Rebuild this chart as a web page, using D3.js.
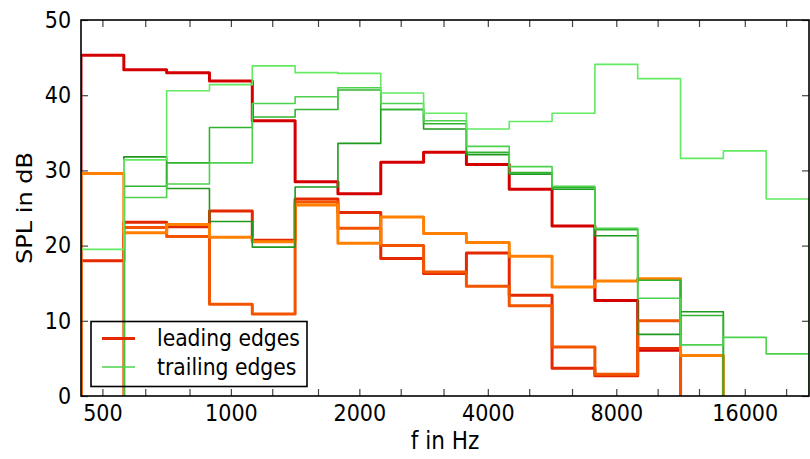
<!DOCTYPE html>
<html>
<head>
<meta charset="utf-8">
<script src="https://cdn.jsdelivr.net/npm/d3@7"></script>
<style>
  body { margin: 0; background: #fff; }
  svg { display: block; }
  text { font-family: "DejaVu Sans", sans-serif; fill: #000; }
</style>
</head>
<body>
<svg id="chart" width="810" height="459"></svg>
<script>
// third-octave band centre frequencies in Hz
const bands = [500, 630, 800, 1000, 1250, 1600, 2000, 2500, 3150, 4000, 5000, 6300, 8000, 10000, 12500, 16000, 20000];
const xTickLabels = [500, 1000, 2000, 4000, 8000, 16000];
const yTicks = [0, 10, 20, 30, 40, 50];

// leading edges, SPL in dB, one value per band from the start band on
const leadA_start = 500;
const leadA = [45.3, 43.4, 43.0, 41.9, 36.6, 28.5, 26.9, 31.1, 32.4, 30.8, 27.5, 22.6, 12.7, 6.1];
const leadB_start = 500;
const leadB = [18.0, 23.1, 22.5, 24.6, 20.7, 26.2, 24.4, 18.3, 16.3, 19.0, 13.4, 3.7, 2.7, 6.3];
const leadD_start = 630;
const leadD = [22.4, 21.2, 12.2, 10.9, 25.8, 22.3, 20.0, 16.5, 14.6, 12.0, 6.5, 2.9, 10.0];
const leadC_start = 500;
const leadC = [29.6, 21.7, 22.8, 21.1, 20.5, 25.4, 20.3, 23.8, 21.6, 20.4, 18.6, 14.5, 15.3, 15.6, 5.4];

// trailing edges
const trailDk_start = 630;
const trailDk = [31.8, 27.6, 23.2, 19.8, 27.8, 33.6, 38.1, 35.5, 32.1, 29.5, 27.5, 21.3, 8.2, 11.2];
const trailM_start = 630;
const trailM = [27.9, 31.0, 35.7, 37.1, 38.1, 40.7, 38.1, 36.2, 32.4, 29.7, 27.7, 22.1, 15.4, 10.7];
const trailL_start = 630;
const trailL = [26.4, 28.2, 31.0, 38.9, 39.8, 41.0, 38.9, 36.6, 33.2, 30.5, 27.9, 22.3, 13.0, 6.8, 7.8, 5.6];
const trailT_start = 500;
const trailT = [19.5, 31.4, 40.6, 41.4, 43.9, 43.0, 42.9, 40.3, 37.6, 35.5, 36.5, 37.6, 44.1, 42.2, 31.6, 32.6, 26.2];

const series = [
    {start: leadA_start, values: leadA, color: "#d40000", width: 3},
    {start: leadB_start, values: leadB, color: "#e42800", width: 3},
    {start: leadD_start, values: leadD, color: "#f25400", width: 3},
    {start: leadC_start, values: leadC, color: "#ff8000", width: 3},
    {start: trailDk_start, values: trailDk, color: "#1e9a1e", width: 1.6},
    {start: trailM_start, values: trailM, color: "#30b430", width: 1.6},
    {start: trailL_start, values: trailL, color: "#4cd24c", width: 1.6},
    {start: trailT_start, values: trailT, color: "#62ea62", width: 1.6}
];

const svg = d3.select("#chart");
const margin = {left: 81, right: 1, top: 20, bottom: 63};
const width = 810, height = 459;

// exact band centre from nominal value, band edges a sixth octave away
function exactCentre(f) {
    const n = Math.round(3 * Math.log2(f / 1000));
    return 1000 * Math.pow(2, n / 3);
}
const lowEdge = i => exactCentre(bands[i]) * Math.pow(2, -1 / 6);
const highEdge = i => exactCentre(bands[i]) * Math.pow(2, 1 / 6);

const x = d3.scaleLog()
    .domain([lowEdge(0), highEdge(bands.length - 1)])
    .range([margin.left, width - margin.right]);
const y = d3.scaleLinear()
    .domain([0, 50])
    .range([height - margin.bottom, margin.top]);

svg.append("clipPath").attr("id", "plot-clip")
    .append("rect")
    .attr("x", margin.left).attr("y", margin.top)
    .attr("width", width - margin.left - margin.right)
    .attr("height", height - margin.top - margin.bottom);

function stairs(start, values) {
    const i0 = bands.indexOf(start);
    const pts = [[lowEdge(i0), 0]];
    values.forEach((v, k) => {
        pts.push([lowEdge(i0 + k), v], [highEdge(i0 + k), v]);
    });
    pts.push([highEdge(i0 + values.length - 1), 0]);
    return pts;
}

const line = d3.line()
    .x(d => x(d[0]))
    .y(d => y(d[1]));

const lines_g = svg.append("g").attr("clip-path", "url(#plot-clip)");
lines_g.selectAll("path")
    .data(series)
    .join("path")
    .attr("d", d => line(stairs(d.start, d.values)))
    .attr("fill", "none")
    .attr("stroke", d => d.color)
    .attr("stroke-width", d => d.width)
    .attr("stroke-linejoin", "round");

// axes, ticks pointing inwards on all four sides
const tickLen = 7;
const xAxisBottom = svg.append("g")
    .attr("transform", `translate(0,${height - margin.bottom})`)
    .call(d3.axisBottom(x).tickValues(bands)
        .tickFormat(d => xTickLabels.includes(d) ? d : "")
        .tickSizeInner(-tickLen).tickSizeOuter(0).tickPadding(9));
svg.append("g")
    .attr("transform", `translate(0,${margin.top})`)
    .call(d3.axisTop(x).tickValues(bands).tickFormat("")
        .tickSizeInner(-tickLen).tickSizeOuter(0));
const yAxisLeft = svg.append("g")
    .attr("transform", `translate(${margin.left},0)`)
    .call(d3.axisLeft(y).tickValues(yTicks)
        .tickSizeInner(-tickLen).tickSizeOuter(0).tickPadding(11));
svg.append("g")
    .attr("transform", `translate(${width - margin.right},0)`)
    .call(d3.axisRight(y).tickValues(yTicks).tickFormat("")
        .tickSizeInner(-tickLen).tickSizeOuter(0));

svg.selectAll(".domain").remove();
svg.selectAll(".tick line").attr("stroke", "#444").attr("stroke-width", 1.2);
svg.selectAll(".tick text")
    .attr("font-size", 23)
    .attr("font-family", "DejaVu Sans")
    .attr("fill", "#000");
// narrow glyphs as in the picture
xAxisBottom.selectAll(".tick text").attr("transform", "scale(0.9,1)");
yAxisLeft.selectAll(".tick text").attr("transform", "scale(0.9,1)");

// frame
svg.append("rect")
    .attr("x", margin.left).attr("y", margin.top)
    .attr("width", width - margin.left - margin.right)
    .attr("height", height - margin.top - margin.bottom)
    .attr("fill", "none")
    .attr("stroke", "#000")
    .attr("stroke-width", 1.6);

// axis titles
svg.append("text")
    .attr("transform", `translate(445,449) scale(0.9,1)`)
    .attr("text-anchor", "middle")
    .attr("font-size", 24)
    .text("f in Hz");
svg.append("text")
    .attr("transform", `translate(32,208) rotate(-90) scale(1,0.9)`)
    .attr("text-anchor", "middle")
    .attr("font-size", 24)
    .text("SPL in dB");

// legend
const legend = svg.append("g");
legend.append("rect")
    .attr("x", 91).attr("y", 321.5)
    .attr("width", 216).attr("height", 65)
    .attr("fill", "none")
    .attr("stroke", "#000")
    .attr("stroke-width", 1.6);
const legendItems = [
    {label: "leading edges", color: "#e42800", width: 3},
    {label: "trailing edges", color: "#4cd24c", width: 1.6}
];
legendItems.forEach((d, i) => {
    const ly = 338.5 + i * 28.5;
    legend.append("line")
        .attr("x1", 102).attr("x2", 135)
        .attr("y1", ly).attr("y2", ly)
        .attr("stroke", d.color)
        .attr("stroke-width", d.width);
    legend.append("text")
        .attr("transform", `translate(157,${ly}) scale(0.9,1)`)
        .attr("dy", "0.35em")
        .attr("font-size", 22.6)
        .text(d.label);
});
</script>
</body>
</html>
